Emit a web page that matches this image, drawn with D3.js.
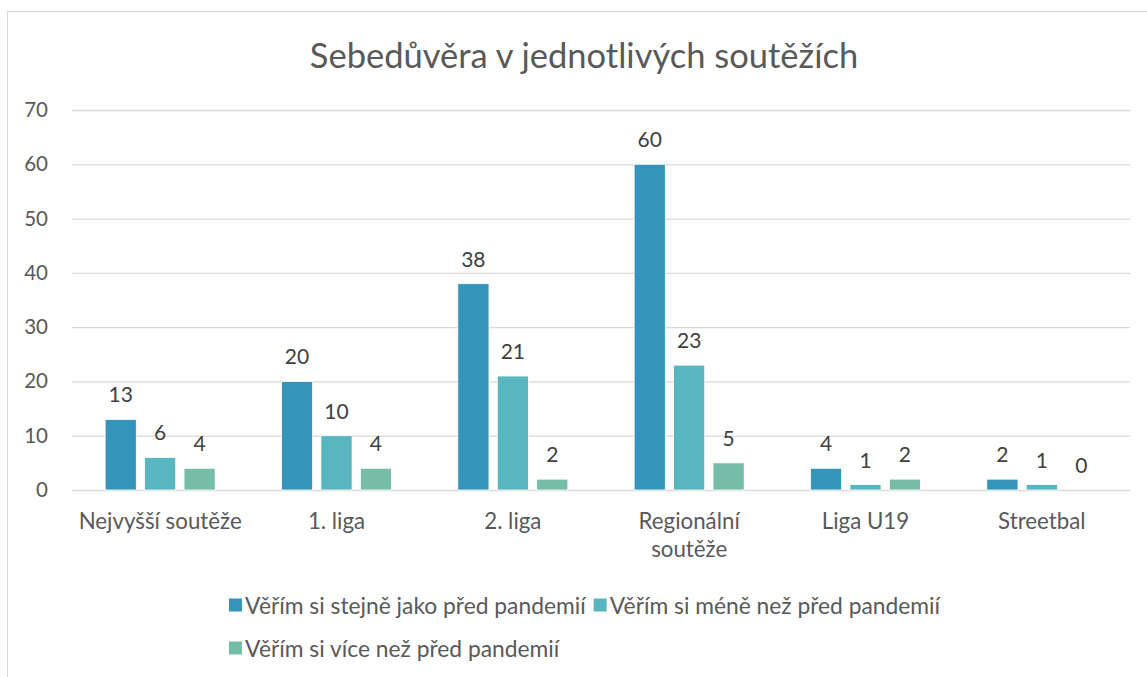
<!DOCTYPE html>
<html>
<head>
<meta charset="utf-8">
<script src="https://cdn.jsdelivr.net/npm/d3@7"></script>
<style>
  body { margin: 0; background: #fff; }
</style>
</head>
<body>
<div id="chart"></div>
<script>
// Data
const categories = ["Nejvyšší soutěže", "1. liga", "2. liga", "Regionální soutěže", "Liga U19", "Streetbal"];
const seriesNames = ["Věřím si stejně jako před pandemií", "Věřím si méně než před pandemií", "Věřím si více než před pandemií"];
const sameValues = [13, 20, 38, 60, 4, 2];
const lessValues = [6, 10, 21, 23, 1, 1];
const moreValues = [4, 4, 2, 5, 2, 0];
const yTicks = [0, 10, 20, 30, 40, 50, 60, 70];
const colors = ["#3494BA", "#58B6C0", "#75BDA7"];

const W = 1147, H = 677;
const font = "Lato, 'Noto Sans', sans-serif";
const textColor = "#595959";
const gridColor = "#d9d9d9";

const series = [sameValues, lessValues, moreValues];
const data = categories.map((c, i) => ({
    cat: c,
    values: series.map((s, j) => ({ key: seriesNames[j], value: s[i], color: colors[j] }))
}));

const svg = d3.select("#chart")
    .append("svg")
    .attr("width", W)
    .attr("height", H);

// Chart border (cropped on right and bottom)
svg.append("rect")
    .attr("x", 7.5)
    .attr("y", 11.5)
    .attr("width", 1160)
    .attr("height", 700)
    .attr("fill", "none")
    .attr("stroke", gridColor);

// Title
svg.append("text")
    .attr("font-family", font)
    .style("font-size", "34.5px")
    .attr("fill", textColor)
    .attr("text-anchor", "middle")
    .attr("x", 584)
    .attr("y", 68)
    .text("Sebedůvěra v jednotlivých soutěžích");

// Scales
const x0 = d3.scaleBand()
    .domain(categories)
    .range([72, 1130]);

const x1 = d3.scaleBand()
    .domain(seriesNames)
    .range([0, x0.bandwidth()])
    .paddingInner(0.21)
    .paddingOuter(0.84);

const y = d3.scaleLinear()
    .domain([0, 70])
    .range([490, 110]);

// Gridlines
svg.append("g")
    .selectAll("line")
    .data(yTicks)
    .enter()
    .append("line")
    .attr("x1", 72)
    .attr("x2", 1130)
    .attr("y1", d => y(d) + 0.5)
    .attr("y2", d => y(d) + 0.5)
    .attr("stroke", gridColor)
    .attr("stroke-width", 1.3);

// Y axis labels
const yAxis = svg.append("g")
    .attr("transform", "translate(50,0)")
    .call(d3.axisLeft(y).tickValues(yTicks).tickSize(0).tickPadding(2));
yAxis.select(".domain").remove();
yAxis.selectAll("text")
    .attr("font-family", font)
    .style("font-size", "20.5px")
    .attr("fill", textColor);

// Bars
const groups = svg.append("g")
    .selectAll("g")
    .data(data)
    .enter()
    .append("g")
    .attr("transform", d => `translate(${x0(d.cat)},0)`);

groups.selectAll("rect")
    .data(d => d.values)
    .enter()
    .append("rect")
    .attr("x", d => x1(d.key))
    .attr("y", d => y(d.value))
    .attr("width", x1.bandwidth())
    .attr("height", d => y(0) - y(d.value))
    .attr("fill", d => d.color)
    .attr("stroke", "#fff")
    .attr("stroke-width", 0.8);

// Data labels
groups.selectAll("text")
    .data(d => d.values)
    .enter()
    .append("text")
    .attr("font-family", font)
    .style("font-size", "21px")
    .attr("fill", "#404040")
    .attr("text-anchor", "middle")
    .attr("x", d => x1(d.key) + x1.bandwidth() / 2)
    .attr("y", d => y(d.value) - 17)
    .text(d => d.value);

// Category labels (wrapped on space if too long)
const catLabels = svg.append("g")
    .selectAll("text")
    .data(categories)
    .enter()
    .append("text")
    .attr("font-family", font)
    .style("font-size", "22.3px")
    .attr("fill", textColor)
    .attr("text-anchor", "middle")
    .attr("x", d => x0(d) + x0.bandwidth() / 2)
    .attr("y", 529);

catLabels.each(function(d) {
    const lines = d === "Regionální soutěže" ? d.split(" ") : [d];
    const t = d3.select(this);
    lines.forEach((line, i) => {
        t.append("tspan")
            .attr("x", t.attr("x"))
            .attr("dy", i === 0 ? 0 : 28)
            .text(line);
    });
});

// Legend
const legendRows = [[0, 1], [2]];
const rowY = [605, 648];
legendRows.forEach((row, r) => {
    let lx = 229;
    row.forEach(j => {
        svg.append("rect")
            .attr("x", lx)
            .attr("y", rowY[r] - 6.5)
            .attr("width", 13)
            .attr("height", 13)
            .attr("fill", colors[j]);
        const t = svg.append("text")
            .attr("font-family", font)
            .style("font-size", "22.8px")
            .attr("fill", textColor)
            .attr("x", lx + 16)
            .attr("y", rowY[r])
            .attr("dominant-baseline", "central")
            .text(seriesNames[j]);
        lx += 16 + t.node().getComputedTextLength() + 8;
    });
});
</script>
</body>
</html>
